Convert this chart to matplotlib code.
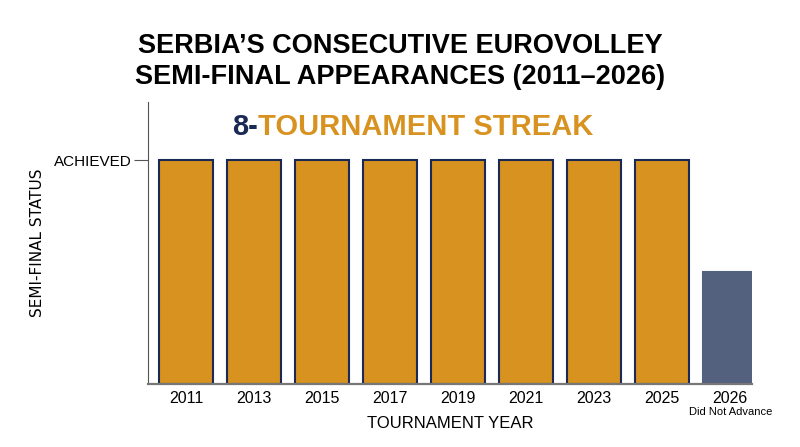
import matplotlib.pyplot as plt

# data
years = ["2011", "2013", "2015", "2017", "2019", "2021", "2023", "2025", "2026"]
status = [1, 1, 1, 1, 1, 1, 1, 1, 0.5]
achieved = [True, True, True, True, True, True, True, True, False]
streak_len = 8

orange = "#D8921F"
navy = "#1B2A55"
slate = "#53607E"

plt.rcParams['font.family'] = ['Liberation Sans', 'DejaVu Sans']

fig = plt.figure(figsize=(8, 4.47), dpi=100)
ax = fig.add_axes([0.185, 0.141, 0.755, 0.631])

x = list(range(len(years)))
colors = [orange if a else slate for a in achieved]
edges = [navy if a else slate for a in achieved]
ax.bar(x, status, width=0.79, color=colors, edgecolor=edges, linewidth=1.5)

ax.set_xlim(-0.56, 8.32)
ax.set_ylim(0, 1.26)

ax.set_xticks(x)
ax.set_xticklabels(years, fontsize=11.5)
ax.tick_params(axis='x', length=0, pad=5)
ax.set_yticks([1])
ax.set_yticklabels(["ACHIEVED"], fontsize=11)
ax.tick_params(axis='y', length=10, width=0.8, color="#555555", pad=2)

for s in ["top", "right"]:
    ax.spines[s].set_visible(False)
ax.spines["left"].set_color("#555555")
ax.spines["left"].set_linewidth(0.8)
ax.spines["bottom"].set_color("#777777")
ax.spines["bottom"].set_linewidth(1.6)

ax.text(8, -0.125, "Did Not Advance", ha="center", va="center", fontsize=8,
        transform=ax.transData)

ax.set_xlabel("TOURNAMENT YEAR", fontsize=12, labelpad=7)
ax.set_ylabel("SEMI-FINAL STATUS", fontsize=11, family="DejaVu Sans")
ax.yaxis.set_label_coords(-0.17, 0.5)

# streak headline
t1 = ax.text(0.68, 1.147, f"{streak_len}-", color=navy, fontsize=21, fontweight="bold",
             ha="left", va="center")
fig.canvas.draw()
bb = t1.get_window_extent()
inv = ax.transData.inverted()
x2 = inv.transform((bb.x1, bb.y0))[0]
ax.text(x2, 1.147, "TOURNAMENT STREAK", color=orange, fontsize=21, fontweight="bold",
        ha="left", va="center")

fig.text(0.5, 0.863, "SERBIA\u2019S CONSECUTIVE EUROVOLLEY\nSEMI-FINAL APPEARANCES (2011\u20132026)",
         ha="center", va="center", fontsize=19.5, fontweight="bold", linespacing=1.25)

fig.savefig("out.png", dpi=100)
